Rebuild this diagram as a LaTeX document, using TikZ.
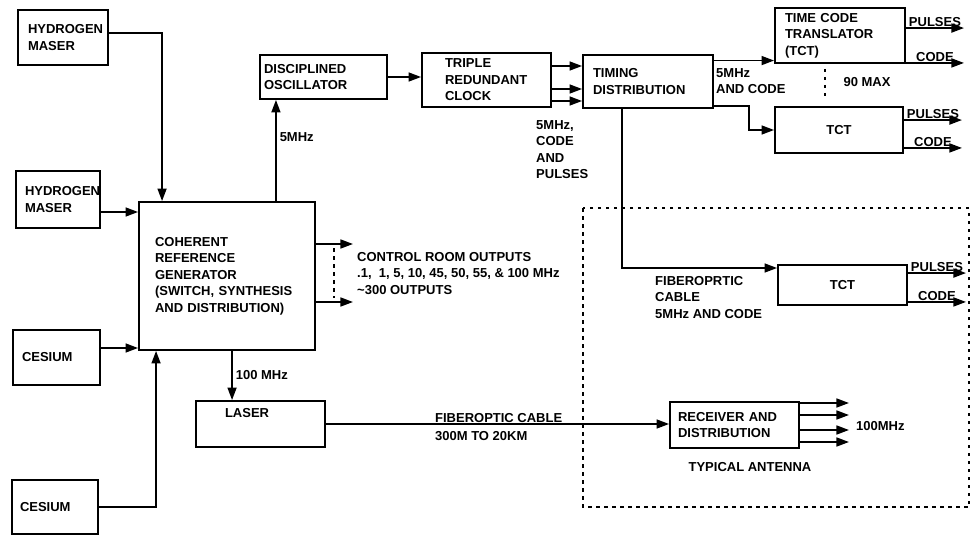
\documentclass[tikz,border=0pt]{standalone}
\usepackage{fontspec}
\setmainfont{Liberation Sans}
\usetikzlibrary{arrows.meta,positioning}
\newcommand{\diagfont}{\fontsize{13}{16.5}\selectfont\bfseries}

\begin{document}
\begin{tikzpicture}[
			x=1pt, y=-1pt,
			box/.style={
				draw,
				line width=1.9pt,
				align=left,
				inner ysep=2pt,
				font=\diagfont
			},
			lbl/.style={
				align=left,
				inner sep=1pt,
				font=\diagfont
			},
			flow/.style={
				-{Triangle[length=12.5pt,width=9pt]},
				line width=1.6pt
			},
			dots/.style={
				line width=1.5pt,
				dash pattern=on 3.5pt off 4.5pt
			}
			]
			
			\useasboundingbox (0,0) rectangle (971,535);
			
			% Frequency standards
			\node[box, text width=70pt, inner xsep=10pt, minimum height=55pt] (hmA) at (63,37.5) {HYDROGEN\\MASER};
			\node[box, text width=66pt, inner xsep=9pt, minimum height=57pt] (hmB) at (58,199.5) {HYDROGEN\\MASER};
			\node[box, text width=69pt, inner xsep=9pt, minimum height=55pt] (csA) at (56.5,357.5) {CESIUM};
			\node[box, text width=70pt, inner xsep=8pt, minimum height=54pt] (csB) at (55,507) {CESIUM};
			
			% Reference generator
			\node[box, text width=144pt, inner xsep=16pt, minimum height=148pt] (crg) at (227,276) {%
				COHERENT\\
				REFERENCE\\
				GENERATOR\\
				(SWITCH, SYNTHESIS\\
				AND DISTRIBUTION)
			};
			
			% Timing chain
			\node[box, text width=119pt, inner xsep=4pt, minimum height=44pt] (disc) at (323.5,77) {DISCIPLINED\\OSCILLATOR};
			\node[box, text width=83pt, inner xsep=23pt, minimum height=54pt] (trc) at (486.5,80) {TRIPLE\\REDUNDANT\\CLOCK};
			\node[box, text width=110pt, inner xsep=10pt, minimum height=53pt] (tdist) at (648,81.5) {TIMING\\DISTRIBUTION};
			
			% Time code translators
			\node[box, text width=110pt, inner xsep=10pt, minimum height=55pt] (tctA) at (840,35.5) {TIME CODE\\TRANSLATOR\\(TCT)};
			\node[box, align=center, minimum width=128pt, minimum height=46pt] (tctB) at (839,130) {TCT};
			\node[box, align=center, minimum width=129pt, minimum height=40pt] (tctC) at (842.5,285) {TCT};
			
			% Laser link
			\node[box, text width=71pt, inner xsep=29pt, inner ysep=3.5pt, text height=13pt, text depth=26pt] (laser) at (260.5,424) {LASER};
			\node[box, text width=113pt, inner xsep=8pt, minimum height=46pt] (rcv) at (734.5,425) {RECEIVER AND\\DISTRIBUTION};
			
			% Antenna site
			\draw[dots] (583,208) rectangle (969,507);
			\node[lbl] (ant) at (750,467) {TYPICAL ANTENNA};
			
			% Inputs to generator
			\draw[flow] ([yshift=4.5pt]hmA.east) -| ([xshift=24pt]crg.north west);
			\draw[flow] ([yshift=-12.5pt]hmB.east) coordinate (inB) -- (inB -| crg.west);
			\draw[flow] ([yshift=9.5pt]csA.east) coordinate (inC) -- (inC -| crg.west);
			\draw[flow] (csB.east) -| ([xshift=18pt]crg.south west);
			
			% Generator outputs
			\draw[flow] ([xshift=-40pt]crg.north east) coordinate (up) -- (up |- disc.south)
			node[lbl, pos=.63, right=2pt] {5MHz};
			\draw[flow] ([yshift=32pt]crg.east) -- ++(37,0) coordinate (outA);
			\draw[flow] ([yshift=-26pt]crg.east) -- ++(37,0) coordinate (outB);
			\draw[dots] ([xshift=-19pt,yshift=-4pt]outA) -- ([xshift=-19pt,yshift=4pt]outB);
			\node[lbl, anchor=north west] (ctrl) at (356,251) {%
				CONTROL ROOM OUTPUTS\\
				.1,\ \ 1, 5, 10, 45, 50, 55, \& 100 MHz\\
				\textasciitilde 300 OUTPUTS
			};
			\draw[flow] ([xshift=94pt]crg.south west) coordinate (dn) -- (dn |- laser.north)
			node[lbl, midway, right=2pt] {100 MHz};
			
			% Clock chain
			\draw[flow] (disc.east) -- (disc.east -| trc.west);
			\foreach \dy in {14,-9,-21}
			\draw[flow] ([yshift=\dy pt]trc.east) coordinate (tc) -- (tc -| tdist.west);
			\node[lbl, anchor=north west] (tcl) at (535,119) {5MHz,\\CODE\\AND\\PULSES};
			
			% Distribution to translators
			\draw[flow] ([yshift=-6.5pt]tdist.north east) coordinate (dA) -- (dA -| tctA.west);
			\draw[flow] ([yshift=3pt]tdist.south east) -- ++(35,0) |- (tctB.west);
			\node[lbl, anchor=north west] (tdl) at (715,67) {5MHz\\AND CODE};
			\draw[flow] ([xshift=-26pt]tdist.south) |- ([yshift=17pt]tctC.west);
			\node[lbl, anchor=north west] (fcl) at (654,275) {FIBEROPRTIC\\CABLE\\5MHz AND CODE};
			\draw[dots] ([xshift=-15pt,yshift=-5pt]tctA.south) -- ([xshift=-14pt,yshift=7pt]tctB.north);
			\node[lbl] (max) at (867,82) {90 MAX};
			
			% Translator outputs
			\foreach \t/\p/\c in {tctA/-21/1, tctB/-14/6, tctC/-9/4} {
				\draw[flow] ([yshift=\p pt]\t.north east) -- ++(58,0) node[lbl, midway, above] {PULSES};
				\draw[flow] ([yshift=\c pt]\t.south east) -- ++(58,0) node[lbl, midway, above] {CODE};
			}
			
			% Fiberoptic link
			\draw[flow] (laser.east) -- (laser.east -| rcv.west)
			node[lbl, pos=.313, anchor=south west] {FIBEROPTIC CABLE}
			node[lbl, pos=.313, anchor=north west, yshift=-6pt] {300M TO 20KM};
			\foreach \dy in {22,10,-5,-17}
			\draw[flow] ([yshift=\dy pt]rcv.east) -- ++(49,0);
			\node[lbl, anchor=west] (hund) at (855,426) {100MHz};
			
		\end{tikzpicture}
\end{document}
